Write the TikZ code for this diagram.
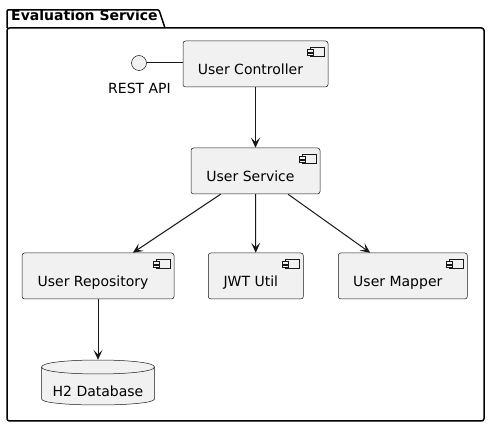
\documentclass[tikz,border=0pt]{standalone}
\usepackage{fontspec}
\setmainfont{DejaVu Sans}
\usepackage{tikz}
\usetikzlibrary{positioning,arrows.meta}

\definecolor{umlfill}{HTML}{F1F1F1}
\definecolor{umlline}{HTML}{181818}

\tikzset{
  comp/.style={draw=umlline, line width=0.5pt, fill=umlfill, rounded corners=2.5pt,
    minimum height=46pt, inner sep=0pt, text height=20.6pt, text depth=0pt,
    execute at end node={\hspace{10pt}}},
  dbnode/.style={inner sep=0pt, minimum width=113pt, minimum height=45pt,
    text height=28pt, text depth=0pt},
  iface/.style={circle, draw=umlline, line width=0.5pt, fill=umlfill,
    minimum size=15pt, inner sep=0pt},
  icon/.style={draw=umlline, line width=0.5pt, fill=umlfill},
  flow/.style={->, draw=umlline, line width=1pt},
}

\newcommand{\compicon}[1]{%
  \draw[icon] ([shift={(-18,7)}]#1.north east) rectangle ([shift={(-4,16)}]#1.north east);
  \draw[icon] ([shift={(-21,9)}]#1.north east) rectangle ([shift={(-15,11.5)}]#1.north east);
  \draw[icon] ([shift={(-21,12.5)}]#1.north east) rectangle ([shift={(-15,15)}]#1.north east);
}

\begin{document}
\begin{tikzpicture}[x=1pt, y=-1pt, >={Stealth[length=10pt,width=9pt,inset=4.5pt]},
    font=\fontsize{14}{16}\selectfont]
  \useasboundingbox (0,0) rectangle (490,427);

  % package frame
  \draw[black, line width=1.5pt, rounded corners=1pt] (7,28) |- (159,10) -- (165,28);
  \draw[black, line width=1.5pt, rounded corners=2.5pt] (7,28) rectangle (484,421);
  \node[anchor=base west, inner sep=0pt, font=\fontsize{14}{16}\selectfont\bfseries]
    (pkgtitle) at (11,21) {Evaluation Service};

  % components
  \node[comp, minimum width=145pt] (ctl)  at (255.5,64)  {User Controller};
  \node[comp, minimum width=129pt] (svc)  at (255.5,171) {User Service};
  \node[comp, minimum width=152pt] (repo) at (98,276)    {User Repository};
  \node[comp, minimum width=95pt]  (jwt)  at (255.8,276) {JWT Util};
  \node[comp, minimum width=129pt] (map)  at (402.8,276) {User Mapper};
  \compicon{ctl}
  \compicon{svc}
  \compicon{repo}
  \compicon{jwt}
  \compicon{map}

  % interface
  \node[iface] (api) at (139,63) {};
  \node[anchor=base, inner sep=0pt] (apilbl) at (139.5,94) {REST API};
  \draw[umlline, line width=1pt] (api.east) -- (api.east -| ctl.west);

  % database
  \filldraw[fill=umlfill, draw=umlline, line width=0.5pt]
    (41.5,367) .. controls (41.5,357.67) and (154.5,357.67) .. (154.5,367)
    -- (154.5,399) .. controls (154.5,407) and (41.5,407) .. (41.5,399) -- cycle;
  \draw[umlline, line width=0.5pt]
    (41.5,367) .. controls (41.5,376.33) and (154.5,376.33) .. (154.5,367);
  \node[dbnode] (db) at (98,382.5) {H2 Database};

  % dependencies
  \draw[flow] (ctl) -- (svc);
  \draw[flow] (svc) -- (repo);
  \draw[flow] (svc) -- (jwt);
  \draw[flow] (svc) -- (map);
  \draw[flow] (repo) -- (db);
\end{tikzpicture}
\end{document}
